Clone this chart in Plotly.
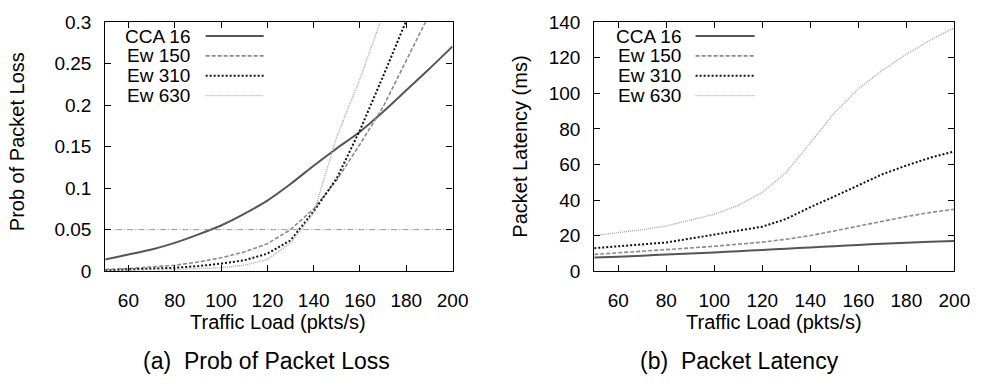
import plotly.graph_objects as go

# ---------------- data ----------------
load = [50, 60, 70, 80, 90, 100, 110, 120, 130, 140, 150, 160, 170, 180, 190, 200]

loss_cca16 = [0.014, 0.02, 0.026, 0.034, 0.044, 0.055, 0.069, 0.085, 0.105, 0.127, 0.148, 0.168, 0.192, 0.218, 0.244, 0.271]
loss_ew150 = [0.002, 0.003, 0.005, 0.007, 0.011, 0.016, 0.023, 0.033, 0.05, 0.075, 0.11, 0.153, 0.198, 0.253, 0.31, None]
loss_ew310 = [0.001, 0.002, 0.003, 0.004, 0.006, 0.009, 0.013, 0.021, 0.037, 0.072, 0.112, 0.17, 0.235, 0.302, None, None]
loss_ew630 = [0.001, 0.001, 0.002, 0.002, 0.003, 0.004, 0.007, 0.014, 0.034, 0.07, 0.162, 0.232, 0.31, None, None, None]
loss_threshold = [0.05] * len(load)

lat_cca16 = [7.6, 8.1, 8.7, 9.3, 9.9, 10.5, 11.2, 11.9, 12.6, 13.3, 14.0, 14.7, 15.4, 16.0, 16.5, 17.0]
lat_ew150 = [9.4, 10.2, 11.1, 12.0, 13.0, 14.0, 15.1, 16.3, 17.9, 20.0, 22.6, 25.4, 28.2, 30.7, 33.0, 34.8]
lat_ew310 = [12.9, 14.0, 15.0, 16.1, 18.3, 20.5, 22.5, 25.0, 29.4, 36.0, 42.0, 48.4, 54.5, 59.4, 63.8, 67.4]
lat_ew630 = [20.0, 21.5, 23.3, 25.4, 28.5, 32.0, 37.0, 44.3, 55.5, 72.0, 89.0, 102.5, 113.0, 122.0, 130.0, 137.0]

series_names = ["CCA 16", "Ew 150", "Ew 310", "Ew 630"]
x_ticks = [60, 80, 100, 120, 140, 160, 180, 200]
loss_ticks = [0, 0.05, 0.1, 0.15, 0.2, 0.25, 0.3]
loss_tick_text = ["0", "0.05", "0.1", "0.15", "0.2", "0.25", "0.3"]
lat_ticks = [0, 20, 40, 60, 80, 100, 120, 140]

# ---------------- styles ----------------
styles = [
    dict(color="#555555", width=2.0, dash="solid"),
    dict(color="#8a8a8a", width=1.6, dash="4px,2px"),
    dict(color="#111111", width=2.0, dash="2px,2px"),
    dict(color="#a8a8a8", width=1.4, dash="1px,1px"),
]
shapes_line = ["spline", "linear", "linear", "linear"]
FONT = "Liberation Sans, Arial, Helvetica, sans-serif"
W, H = 993, 389

fig = go.Figure()

for name, ys, st, sh in zip(series_names, [loss_cca16, loss_ew150, loss_ew310, loss_ew630], styles, shapes_line):
    fig.add_trace(go.Scatter(x=load, y=ys, mode="lines", name=name,
                             line=dict(shape=sh, smoothing=0.6, **st),
                             xaxis="x", yaxis="y", showlegend=False, connectgaps=False))
fig.add_trace(go.Scatter(x=load, y=loss_threshold, mode="lines", name="0.05",
                         line=dict(color="#9a9a9a", width=1, dash="6px,2px,1px,2px"),
                         xaxis="x", yaxis="y", showlegend=False))

for name, ys, st, sh in zip(series_names, [lat_cca16, lat_ew150, lat_ew310, lat_ew630], styles, shapes_line):
    fig.add_trace(go.Scatter(x=load, y=ys, mode="lines", name=name,
                             line=dict(shape=sh, smoothing=0.6, **st),
                             xaxis="x2", yaxis="y2", showlegend=False))

axis_common = dict(showline=True, linecolor="black", linewidth=1.2, mirror="ticks",
                   ticks="inside", ticklen=6, tickwidth=1, tickcolor="black",
                   showgrid=False, zeroline=False,
                   tickfont=dict(family=FONT, size=19, color="black"))

xd1 = [107 / W, 460 / W]
xd2 = [604 / W, 970 / W]
yd = [1 - 276 / H, 1 - 13 / H]

fig.update_layout(
    width=W, height=H, margin=dict(l=0, r=0, t=0, b=0),
    paper_bgcolor="white", plot_bgcolor="white",
    font=dict(family=FONT, color="black"),
    xaxis=dict(domain=xd1, range=[50, 200], tickvals=x_ticks, anchor="y",
               ticklabelstandoff=12, **axis_common),
    yaxis=dict(domain=yd, range=[0, 0.3], tickvals=loss_ticks, ticktext=loss_tick_text,
               anchor="x", ticklabelstandoff=9, **axis_common),
    xaxis2=dict(domain=xd2, range=[50, 200], tickvals=x_ticks, anchor="y2",
                ticklabelstandoff=12, **axis_common),
    yaxis2=dict(domain=yd, range=[0, 140], tickvals=lat_ticks, anchor="x2",
                ticklabelstandoff=9, **axis_common),
)

annotations = []
shapes = []

def pad(x, y, text, size=20, angle=0, xanchor="center", bp=1):
    annotations.append(dict(x=x / W, y=1 - y / H, xref="paper", yref="paper",
                            text=text, showarrow=False, textangle=angle,
                            xanchor=xanchor, yanchor="middle", borderpad=bp,
                            font=dict(family=FONT, size=size, color="black")))

# axis titles
pad(18, 139, "Prob of Packet Loss", angle=-90)
pad(529, 144, "Packet Latency (ms)", angle=-90)
pad(283, 330, "Traffic Load (pkts/s)")
pad(787, 330, "Traffic Load (pkts/s)")
# captions
pad(271, 371, "(a)  Prob of Packet Loss", size=23)
pad(752, 371, "(b)  Packet Latency", size=23)

# legends (gnuplot style: text right-aligned, sample to the right)
legend_rows = [27.5, 48.5, 69.5, 90.5]
for (text_right, l0, l1) in [(194, 209, 268), (693, 707, 767)]:
    for name, st, ry in zip(series_names, styles, legend_rows):
        pad(text_right, ry, name, size=19, xanchor="right", bp=0)
        shapes.append(dict(type="line", xref="paper", yref="paper",
                           x0=l0 / W, x1=l1 / W, y0=1 - ry / H, y1=1 - ry / H,
                           line=st))

fig.update_layout(annotations=annotations, shapes=shapes)
fig.write_html("out.html")
